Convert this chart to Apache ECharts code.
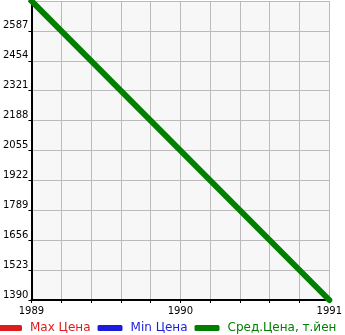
<!DOCTYPE html>
<html><head><meta charset="utf-8">
<script src="https://cdn.jsdelivr.net/npm/echarts@6/dist/echarts.min.js"></script>
<style>html,body{margin:0;padding:0;background:#fff}#c{width:345px;height:335px}</style>
</head><body><div id="c"></div>
<script>
const years = [1989, 1991];
const avgPrice = [2720, 1390];
const maxPrice = [];
const minPrice = [];
const yTickValues = [1390, 1523, 1656, 1789, 1922, 2055, 2188, 2321, 2454, 2587, 2720];
const yLabelValues = [1390, 1523, 1656, 1789, 1922, 2055, 2188, 2321, 2454, 2587];
const xTickValues = [1989, 1989.2, 1989.4, 1989.6, 1989.8, 1990, 1990.2, 1990.4, 1990.6, 1990.8, 1991];
const xLabelValues = [1989, 1990, 1991];
const seriesNames = ['Max Цена', 'Min Цена', 'Сред.Цена, т.йен'];
const colors = ['#dd1c1c', '#1c1cdd', '#007f00'];

const chart = echarts.init(document.getElementById('c'), null, {renderer: 'canvas'});
const font = 'DejaVu Sans';
chart.setOption({
  animation: false,
  backgroundColor: '#ffffff',
  grid: {left: 30, right: 14, top: 1, bottom: 35, containLabel: false, show: true, backgroundColor: '#f7f7f7', borderWidth: 0},
  legend: {
    left: -3, top: 322, padding: 0, itemWidth: 25, itemHeight: 6, itemGap: 7,
    icon: 'roundRect',
    data: seriesNames.map((n, i) => ({name: n, textStyle: {color: colors[i]}})),
    textStyle: {fontFamily: font, fontSize: 12, padding: [0, 0, 0, 3]}
  },
  xAxis: {
    type: 'value', min: 1989, max: 1991,
    axisLine: {show: true, onZero: false, lineStyle: {color: '#000', width: 2}},
    axisTick: {show: true, customValues: xTickValues, length: 3, lineStyle: {color: '#000', width: 1}},
    axisLabel: {customValues: xLabelValues, color: '#000', fontFamily: font, fontSize: 10, margin: 6,
      formatter: v => String(Math.round(v))},
    splitLine: {show: true, lineStyle: {color: '#bbbbbb', width: 1}}
  },
  yAxis: {
    type: 'value', min: 1390, max: 2720,
    axisLine: {show: true, lineStyle: {color: '#000', width: 2}},
    axisTick: {show: true, customValues: yTickValues, length: 3, lineStyle: {color: '#000', width: 1}},
    axisLabel: {customValues: yLabelValues, color: '#000', fontFamily: font, fontSize: 10, margin: 3,
      verticalAlign: 'bottom', formatter: v => String(v)},
    splitLine: {show: true, lineStyle: {color: '#bbbbbb', width: 1}}
  },
  series: [
    {name: seriesNames[0], type: 'line', data: maxPrice, color: colors[0], showSymbol: false},
    {name: seriesNames[1], type: 'line', data: minPrice, color: colors[1], showSymbol: false},
    {name: seriesNames[2], type: 'line', color: colors[2], showSymbol: false,
      data: years.map((y, i) => [y, avgPrice[i]]),
      lineStyle: {width: 6, cap: 'round', color: colors[2]}, clip: false}
  ]
});
</script></body></html>
